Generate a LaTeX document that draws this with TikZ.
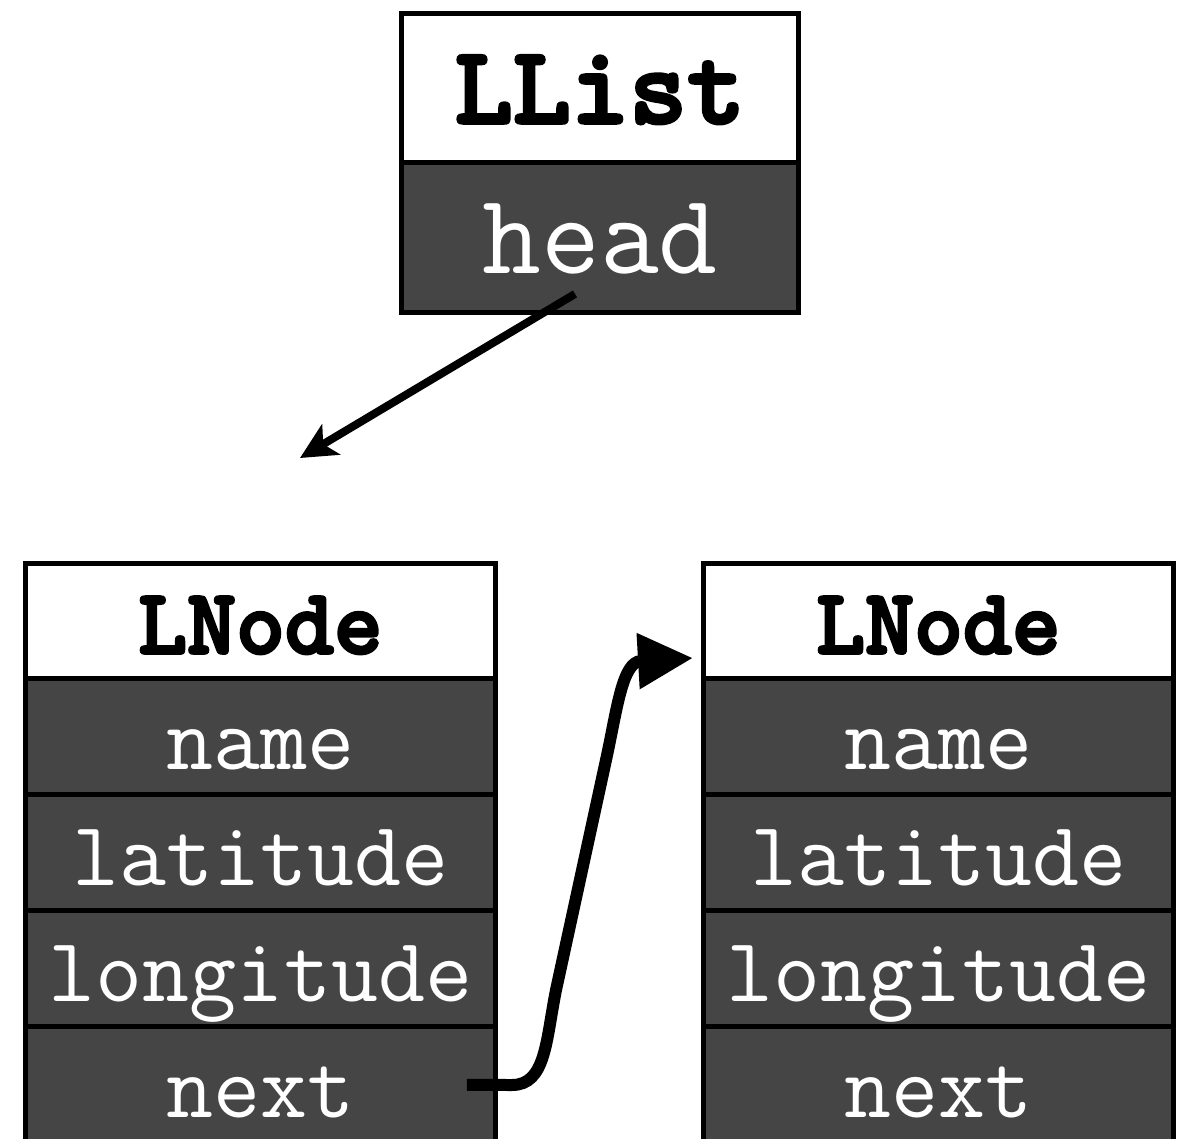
\documentclass[tikz,border=0pt]{standalone}
\usepackage{fontspec}
\newfontfamily\hdrfont{lmmonolt10-bold}[Extension = .otf, FakeBold = 3]
\usetikzlibrary{positioning}
\usetikzlibrary{arrows.meta}
\definecolor{cellgray}{RGB}{69,69,69}

\begin{document}
\begin{tikzpicture}[
        x = 0.02cm, y = -0.02cm,
        box/.style = {draw, rectangle, line width = 0.1cm, outer sep = 0pt, inner sep = 0pt},
        header/.style = {box, fill = white, text = black},
        field/.style = {box, fill = cellgray, text = white},
        listsize/.style = {minimum width = 7.96cm, minimum height = 3cm,
                           text height = 40pt, text depth = 0pt},
        nodesize/.style = {minimum width = 9.42cm, minimum height = 2.32cm,
                           text height = 37pt, text depth = 0pt},
        bigbold/.style = {font = \fontsize{63}{63}\selectfont\hdrfont},
        big/.style = {font = \fontsize{65}{65}\selectfont\ttfamily},
        smallbold/.style = {font = \fontsize{53}{53}\selectfont\hdrfont},
        small/.style = {font = \fontsize{52}{52}\selectfont\ttfamily},
        ]
        \useasboundingbox (0,0) rectangle (1187,1139);

        % the list
        \node[header, listsize, bigbold] (llist) at (600,88) {LList};
        \node[field, listsize, big, below = 0pt of llist] (head) {head};

        % first node
        \node[header, nodesize, smallbold] (lnode1) at (260.5,621) {LNode};
        \node[field, nodesize, small, below = 0pt of lnode1] (name1) {name};
        \node[field, nodesize, small, below = 0pt of name1] (lat1) {latitude};
        \node[field, nodesize, small, below = 0pt of lat1] (lon1) {longitude};
        \node[field, nodesize, small, below = 0pt of lon1] (next1) {next};

        % second node
        \node[header, nodesize, smallbold] (lnode2) at (938.5,621) {LNode};
        \node[field, nodesize, small, below = 0pt of lnode2] (name2) {name};
        \node[field, nodesize, small, below = 0pt of name2] (lat2) {latitude};
        \node[field, nodesize, small, below = 0pt of lat2] (lon2) {longitude};
        \node[field, nodesize, small, below = 0pt of lon2] (next2) {next};

        % pointers
        \coordinate (headend) at (300,458);
        \coordinate (nextend) at (693,658);
        \draw[line width = 0.16cm, -{Stealth[length = 0.72cm, width = 0.7cm, inset = 0.18cm]}]
            ([shift = {(-25,-19)}]head.south) -- (headend);
        \draw[line width = 0.24cm, -{Triangle[length = 1.1cm, width = 1.06cm]}]
            ([xshift = -0.58cm]next1.east) -- (512,1085)
            .. controls (546,1085) and (546,1040) .. (556,990) -- (606,760)
            .. controls (617,710) and (622,662) .. (nextend);
\end{tikzpicture}
\end{document}
